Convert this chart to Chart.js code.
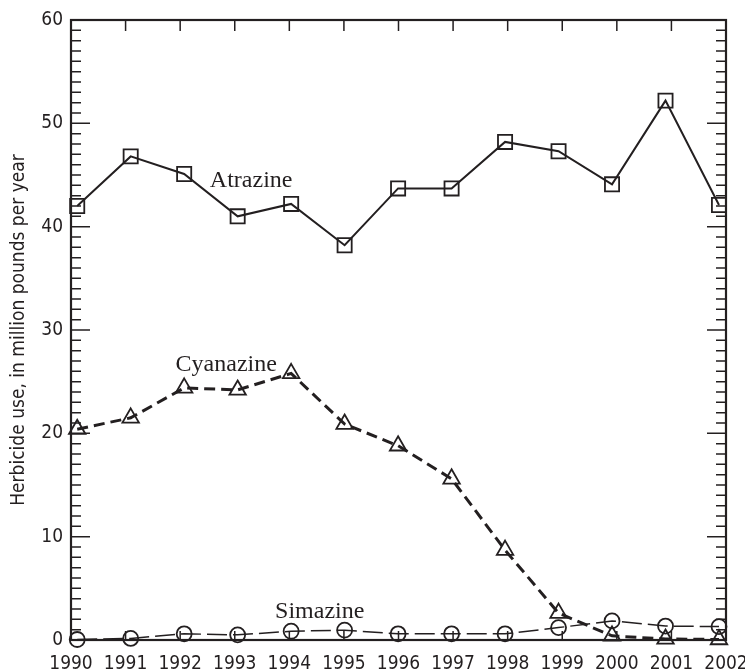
<!DOCTYPE html>
<html>
<head>
<meta charset="utf-8">
<script src="https://cdn.jsdelivr.net/npm/chart.js@4"></script>
<style>
  html, body { margin: 0; padding: 0; background: #fff; }
</style>
</head>
<body>
<canvas id="myChart" width="745" height="670"></canvas>
<script>
// Years and herbicide use (million pounds per year)
var years = [1990, 1991, 1992, 1993, 1994, 1995, 1996, 1997, 1998, 1999, 2000, 2001, 2002];
var atrazine = [42.0, 46.8, 45.1, 41.0, 42.2, 38.2, 43.7, 43.7, 48.2, 47.3, 44.1, 52.2, 42.1];
var cyanazine = [20.4, 21.5, 24.4, 24.2, 25.8, 20.9, 18.8, 15.6, 8.7, 2.6, 0.4, 0.1, 0.05];
var simazine = [0.05, 0.15, 0.6, 0.5, 0.85, 0.95, 0.6, 0.6, 0.6, 1.2, 1.85, 1.35, 1.3];
var yTicks = [0, 10, 20, 30, 40, 50, 60];

var ink = '#231f20';
var narrow = "'DejaVu Sans Condensed', 'Liberation Sans Narrow', 'Arial Narrow', sans-serif";
var serif = "'Liberation Serif', 'Times New Roman', serif";

function points(values) {
    return years.map(function (yr, i) { return { x: yr, y: values[i] }; });
}

// Frame, inward ticks and the series names
var framePlugin = {
    id: 'frame',
    afterDatasetsDraw: function (chart) {
        var ctx = chart.ctx;
        var a = chart.chartArea;
        var xt = chart.scales.xt;
        var y = chart.scales.y;
        var x = chart.scales.x;
        ctx.save();
        ctx.strokeStyle = ink;
        ctx.lineWidth = 1.5;
        ctx.beginPath();
        years.forEach(function (yr) {
            var px = xt.getPixelForValue(yr);
            ctx.moveTo(px, a.top);
            ctx.lineTo(px, a.top + 11);
            ctx.moveTo(px, a.bottom);
            ctx.lineTo(px, a.bottom - 9);
        });
        for (var v = 1; v < 60; v++) {
            var py = y.getPixelForValue(v);
            var len = (v % 10 === 0) ? 19 : 10;
            ctx.moveTo(a.left, py);
            ctx.lineTo(a.left + len, py);
            ctx.moveTo(a.right, py);
            ctx.lineTo(a.right - len, py);
        }
        ctx.stroke();

        ctx.lineWidth = 2.2;
        ctx.strokeRect(a.left, a.top, a.right - a.left, a.bottom - a.top);

        ctx.fillStyle = ink;
        ctx.font = '24px ' + serif;
        ctx.textAlign = 'left';
        ctx.textBaseline = 'alphabetic';
        chart.options.plugins.frame.names.forEach(function (n) {
            ctx.fillText(n.text, x.getPixelForValue(n.x), y.getPixelForValue(n.y));
        });
        ctx.restore();
    }
};

var ctx = document.getElementById('myChart').getContext('2d');

var myChart = new Chart(ctx, {
    type: 'line',
    data: {
        datasets: [{
            label: 'Atrazine',
            data: points(atrazine),
            borderColor: ink,
            borderWidth: 2,
            pointStyle: 'rect',
            pointRadius: 10,
            pointBorderWidth: 1.8,
            pointBorderColor: ink,
            pointBackgroundColor: 'rgba(0,0,0,0)',
            tension: 0,
            clip: false
        }, {
            label: 'Cyanazine',
            data: points(cyanazine),
            borderColor: ink,
            borderWidth: 3,
            borderDash: [11, 6],
            pointStyle: 'triangle',
            pointRadius: 9.5,
            pointBorderWidth: 1.8,
            pointBorderColor: ink,
            pointBackgroundColor: 'rgba(0,0,0,0)',
            tension: 0,
            clip: false
        }, {
            label: 'Simazine',
            data: points(simazine),
            borderColor: ink,
            borderWidth: 1.5,
            borderDash: [20, 6],
            pointStyle: 'circle',
            pointRadius: 7.5,
            pointBorderWidth: 1.8,
            pointBorderColor: ink,
            pointBackgroundColor: 'rgba(0,0,0,0)',
            tension: 0,
            clip: false
        }]
    },
    options: {
        responsive: false,
        animation: false,
        layout: { padding: { left: 0, right: 19, top: 20, bottom: 0 } },
        scales: {
            x: {
                type: 'linear',
                display: false,
                min: 1989.884,
                max: 2002.131
            },
            xt: {
                type: 'linear',
                position: 'bottom',
                min: 1990,
                max: 2002,
                grid: { display: false },
                border: { display: false },
                ticks: {
                    stepSize: 1,
                    padding: 5,
                    maxRotation: 0,
                    autoSkip: false,
                    color: ink,
                    font: { family: narrow, size: 19 },
                    callback: function (v) { return String(v); }
                },
                afterFit: function (s) {
                    s.height = 30;
                    s.paddingLeft = 0;
                    s.paddingRight = 0;
                }
            },
            y: {
                min: 0,
                max: 60,
                grid: { display: false },
                border: { display: false },
                afterBuildTicks: function (s) {
                    s.ticks = yTicks.map(function (v) { return { value: v }; });
                },
                ticks: {
                    padding: 0,
                    color: ink,
                    font: { family: narrow, size: 19 }
                },
                title: {
                    display: true,
                    text: 'Herbicide use, in million pounds per year',
                    color: ink,
                    padding: { top: 8, bottom: 0 },
                    font: { family: narrow, size: 19 }
                },
                afterFit: function (s) { s.width = 71; }
            }
        },
        plugins: {
            legend: { display: false },
            tooltip: { enabled: false },
            frame: {
                names: [
                    { text: 'Atrazine', x: 1992.48, y: 43.8 },
                    { text: 'Cyanazine', x: 1991.84, y: 26.0 },
                    { text: 'Simazine', x: 1993.70, y: 2.1 }
                ]
            }
        }
    },
    plugins: [framePlugin]
});
</script>
</body>
</html>
